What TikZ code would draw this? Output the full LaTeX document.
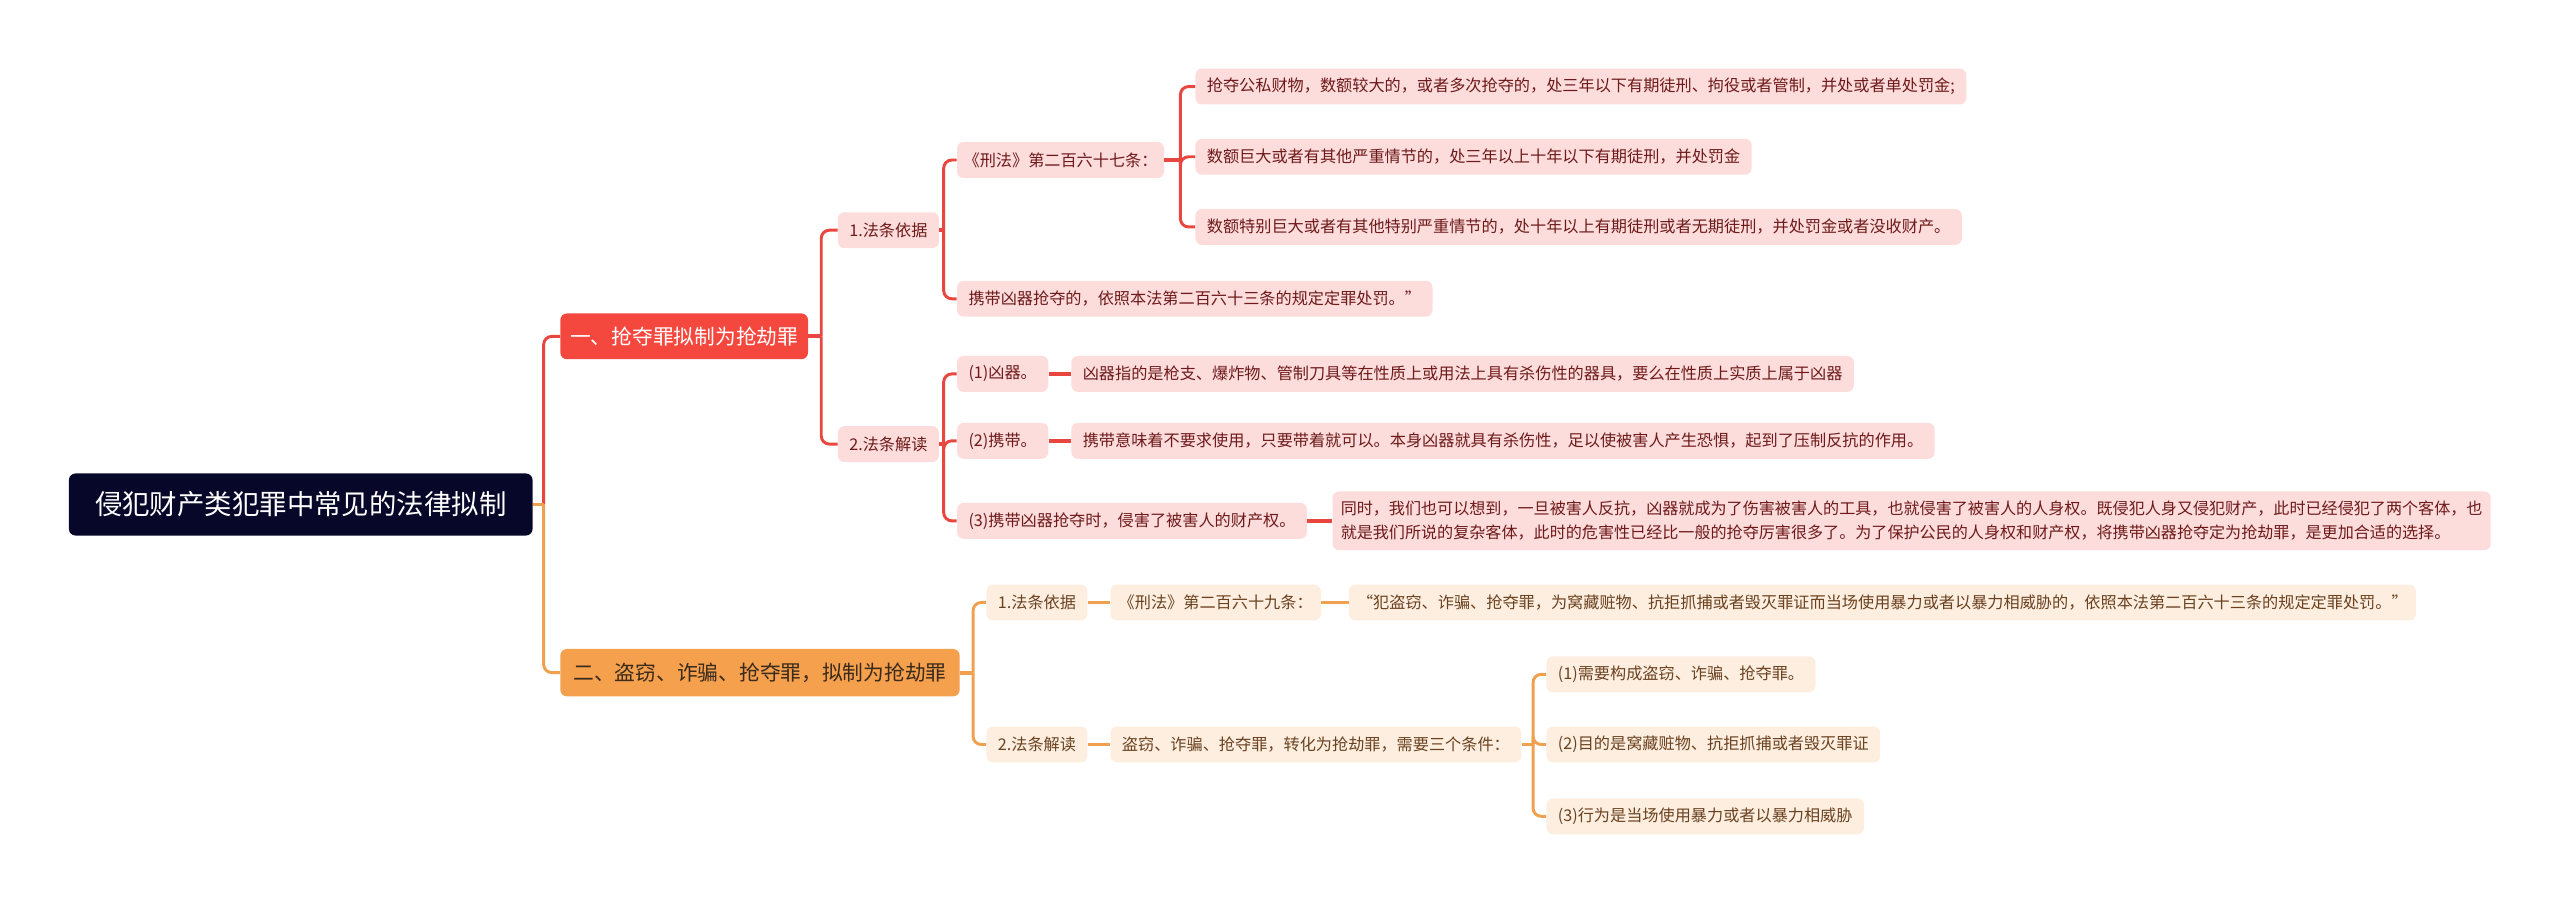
\documentclass[tikz,border=0pt]{standalone}
\usepackage{fontspec}
\setmainfont{Noto Sans CJK SC}
\usetikzlibrary{calc}
\definecolor{rootbg}{HTML}{07072A}
\definecolor{redmain}{HTML}{F4473E}
\definecolor{redln}{HTML}{E8463E}
\definecolor{pinkbg}{HTML}{FDDCDC}
\definecolor{redtext}{HTML}{6E1A1A}
\definecolor{orgmain}{HTML}{F4A04D}
\definecolor{orgln}{HTML}{F0A150}
\definecolor{orgbg}{HTML}{FDEEE0}
\definecolor{orgtext}{HTML}{6B4220}
\definecolor{orgl1text}{HTML}{3A2A1C}
\tikzset{
  base/.style={rounded corners=4pt, anchor=west, inner xsep=7pt, inner ysep=0pt,
    minimum height=22pt, font=\fontsize{9.9}{12}\selectfont},
  rootbox/.style={base, fill=rootbg, text=white, minimum height=38pt, inner xsep=16pt,
    font=\fontsize{16.8}{20}\selectfont},
  redlone/.style={base, fill=redmain, text=white, minimum height=28pt, inner xsep=6pt,
    font=\fontsize{12.7}{15}\selectfont},
  orglone/.style={base, fill=orgmain, text=orgl1text, minimum height=29pt, inner xsep=8pt,
    font=\fontsize{12.7}{15}\selectfont},
  redbox/.style={base, fill=pinkbg, text=redtext},
  orgbox/.style={base, fill=orgbg, text=orgtext},
  rl/.style={draw=redln, line width=1.8pt, rounded corners=5pt},
  ol/.style={draw=orgln, line width=1.8pt, rounded corners=5pt},
  rstub/.style={draw=redln, line width=2.4pt},
  ostub/.style={draw=orgln, line width=2.4pt},
}
\begin{document}
\begin{tikzpicture}[x=1pt,y=-1pt]
\useasboundingbox (0,0) rectangle (1568,552);
% trunks
\coordinate (T0) at (333,0);
\coordinate (T1) at (503,0);
\coordinate (T2) at (578,0);
\coordinate (T3) at (723,0);
\coordinate (T4) at (596,0);
\coordinate (T5) at (939,0);

% nodes
\node[rootbox] (root) at (42,309) {侵犯财产类犯罪中常见的法律拟制};
\node[redlone] (r1) at (343,206) {一、抢夺罪拟制为抢劫罪};
\node[orglone] (o1) at (343,412) {二、盗窃、诈骗、抢夺罪，拟制为抢劫罪};

\node[redbox] (ra) at (513,141) {1.法条依据};
\node[redbox] (rb) at (513,272) {2.法条解读};

\node[redbox, inner xsep=4pt] (xf) at (586,98) {《刑法》第二百六十七条：};
\node[redbox] (xd) at (586,183) {携带凶器抢夺的，依照本法第二百六十三条的规定定罪处罚。”};

\node[redbox] (xa1) at (732,53) {抢夺公私财物，数额较大的，或者多次抢夺的，处三年以下有期徒刑、拘役或者管制，并处或者单处罚金;};
\node[redbox] (xa2) at (732,96) {数额巨大或者有其他严重情节的，处三年以上十年以下有期徒刑，并处罚金};
\node[redbox] (xa3) at (732,139) {数额特别巨大或者有其他特别严重情节的，处十年以上有期徒刑或者无期徒刑，并处罚金或者没收财产。};

\node[redbox] (j1) at (586,229) {(1)凶器。};
\node[redbox] (j2) at (586,270) {(2)携带。};
\node[redbox] (j3) at (586,319) {(3)携带凶器抢夺时，侵害了被害人的财产权。};

\node[redbox] (k1) at (656,229) {凶器指的是枪支、爆炸物、管制刀具等在性质上或用法上具有杀伤性的器具，要么在性质上实质上属于凶器};
\node[redbox] (k2) at (656,270) {携带意味着不要求使用，只要带着就可以。本身凶器就具有杀伤性，足以使被害人产生恐惧，起到了压制反抗的作用。};
\node[redbox, minimum height=36pt, inner xsep=5pt, align=left, font=\fontsize{9.85}{14.5}\selectfont] (k3) at (816,319) {同时，我们也可以想到，一旦被害人反抗，凶器就成为了伤害被害人的工具，也就侵害了被害人的人身权。既侵犯人身又侵犯财产，此时已经侵犯了两个客体，也\\就是我们所说的复杂客体，此时的危害性已经比一般的抢夺厉害很多了。为了保护公民的人身权和财产权，将携带凶器抢夺定为抢劫罪，是更加合适的选择。};

\node[orgbox] (oa) at (604,369) {1.法条依据};
\node[orgbox] (ob) at (604,456) {2.法条解读};
\node[orgbox, inner xsep=5pt] (of) at (680,369) {《刑法》第二百六十九条：};
\node[orgbox, inner xsep=5pt] (oq) at (826,369) {“犯盗窃、诈骗、抢夺罪，为窝藏赃物、抗拒抓捕或者毁灭罪证而当场使用暴力或者以暴力相威胁的，依照本法第二百六十三条的规定定罪处罚。”};
\node[orgbox] (oc) at (680,456) {盗窃、诈骗、抢夺罪，转化为抢劫罪，需要三个条件：};
\node[orgbox] (c1) at (947,413) {(1)需要构成盗窃、诈骗、抢夺罪。};
\node[orgbox] (c2) at (947,456) {(2)目的是窝藏赃物、抗拒抓捕或者毁灭罪证};
\node[orgbox] (c3) at (947,500) {(3)行为是当场使用暴力或者以暴力相威胁};

% connectors: root
\draw[rl] (root.east -| T0) |- (r1.west);
\draw[ol] (root.east -| T0) |- (o1.west);
\draw[ostub] (root.east) -- (root.east -| T0);
% red L1
\draw[rstub] (r1.east) -- (r1.east -| T1);
\draw[rl] (r1.east -| T1) |- (ra.west);
\draw[rl] (r1.east -| T1) |- (rb.west);
% 1.法条依据
\draw[rstub] (ra.east) -- (ra.east -| T2);
\draw[rl] (ra.east -| T2) |- (xf.west);
\draw[rl] (ra.east -| T2) |- (xd.west);
% 267
\draw[rstub] (xf.east) -- (xf.east -| T3);
\draw[rl] (xf.east -| T3) |- (xa1.west);
\draw[rl] (xf.east -| T3) |- (xa2.west);
\draw[rl] (xf.east -| T3) |- (xa3.west);
% 2.法条解读
\draw[rstub] (rb.east) -- (rb.east -| T2);
\draw[rl] (rb.east -| T2) |- (j1.west);
\draw[rl] (rb.east -| T2) |- (j2.west);
\draw[rl] (rb.east -| T2) |- (j3.west);
\draw[rstub] (j1.east) -- (k1.west);
\draw[rstub] (j2.east) -- (k2.west);
\draw[rstub] (j3.east) -- (k3.west);
% orange L1
\draw[ostub] (o1.east) -- (o1.east -| T4);
\draw[ol] (o1.east -| T4) |- (oa.west);
\draw[ol] (o1.east -| T4) |- (ob.west);
\draw[ostub] (oa.east) -- (of.west);
\draw[ostub] (of.east) -- (oq.west);
\draw[ostub] (ob.east) -- (oc.west);
\draw[ostub] (oc.east) -- (oc.east -| T5);
\draw[ol] (oc.east -| T5) |- (c1.west);
\draw[ol] (oc.east -| T5) |- (c2.west);
\draw[ol] (oc.east -| T5) |- (c3.west);
\end{tikzpicture}
\end{document}
